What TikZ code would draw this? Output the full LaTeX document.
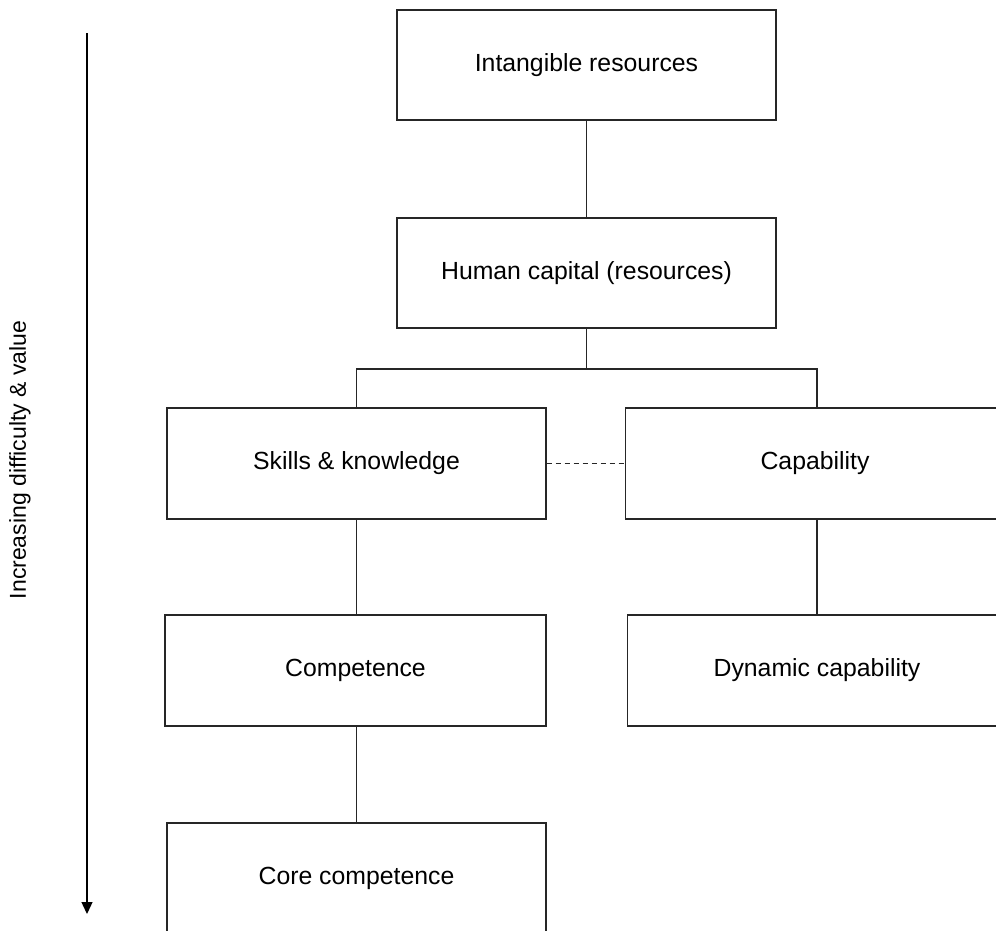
\documentclass[tikz,border=0pt]{standalone}
\usepackage{fontspec}
\setmainfont{Liberation Sans}
\usetikzlibrary{arrows.meta}
\begin{document}
\begin{tikzpicture}[x=1pt,y=-1pt,
  box/.style={draw=black!85,line width=1.3pt,minimum width=379pt,minimum height=110pt,inner sep=0pt,font=\fontsize{24.8}{29}\selectfont,anchor=center},
  link/.style={draw=black!85,line width=1.3pt},
  dlink/.style={draw=black!85,line width=1pt,dash pattern=on 5pt off 4pt}]
\useasboundingbox (0,0) rectangle (996,930);
\clip (0,0) rectangle (996,930);
\node[box] (ir) at (586.5,65) {Intangible resources};
\node[box] (hc) at (586.5,273) {Human capital (resources)};
\node[box,minimum height=111pt] (sk) at (356.5,463.5) {Skills \& knowledge};
\node[box,minimum height=111pt] (cap) at (815,463.5) {Capability};
\node[box,minimum width=381pt,minimum height=111pt] (comp) at (355.5,670.5) {Competence};
\node[box,minimum height=111pt] (dyn) at (817,670.5) {Dynamic capability};
\node[box,minimum height=110pt] (core) at (356.5,878) {Core competence};
\coordinate (split) at (586.5,369);
\draw[link] (ir) -- (hc);
\draw[link] (hc.south) -- (split);
\draw[link] (split) -| (sk.north);
\draw[link] (split) -| ([xshift=2pt]cap.north);
\draw[dlink] (sk) -- (cap);
\draw[link] (sk) -- (sk.south |- comp.north);
\draw[link] ([xshift=2pt]cap.south) -- ([xshift=2pt]cap.south |- dyn.north);
\draw[link] (comp.south -| sk.south) -- (core.north);
\coordinate (atop) at (87,33);
\coordinate (abot) at (87,914);
\draw[line width=1.3pt,-{Triangle[length=12pt,width=11pt]}] (atop) -- (abot);
\node[rotate=90,font=\fontsize{23}{28}\selectfont] (lab) at (20,460) {Increasing difficulty \& value};
\end{tikzpicture}
\end{document}
